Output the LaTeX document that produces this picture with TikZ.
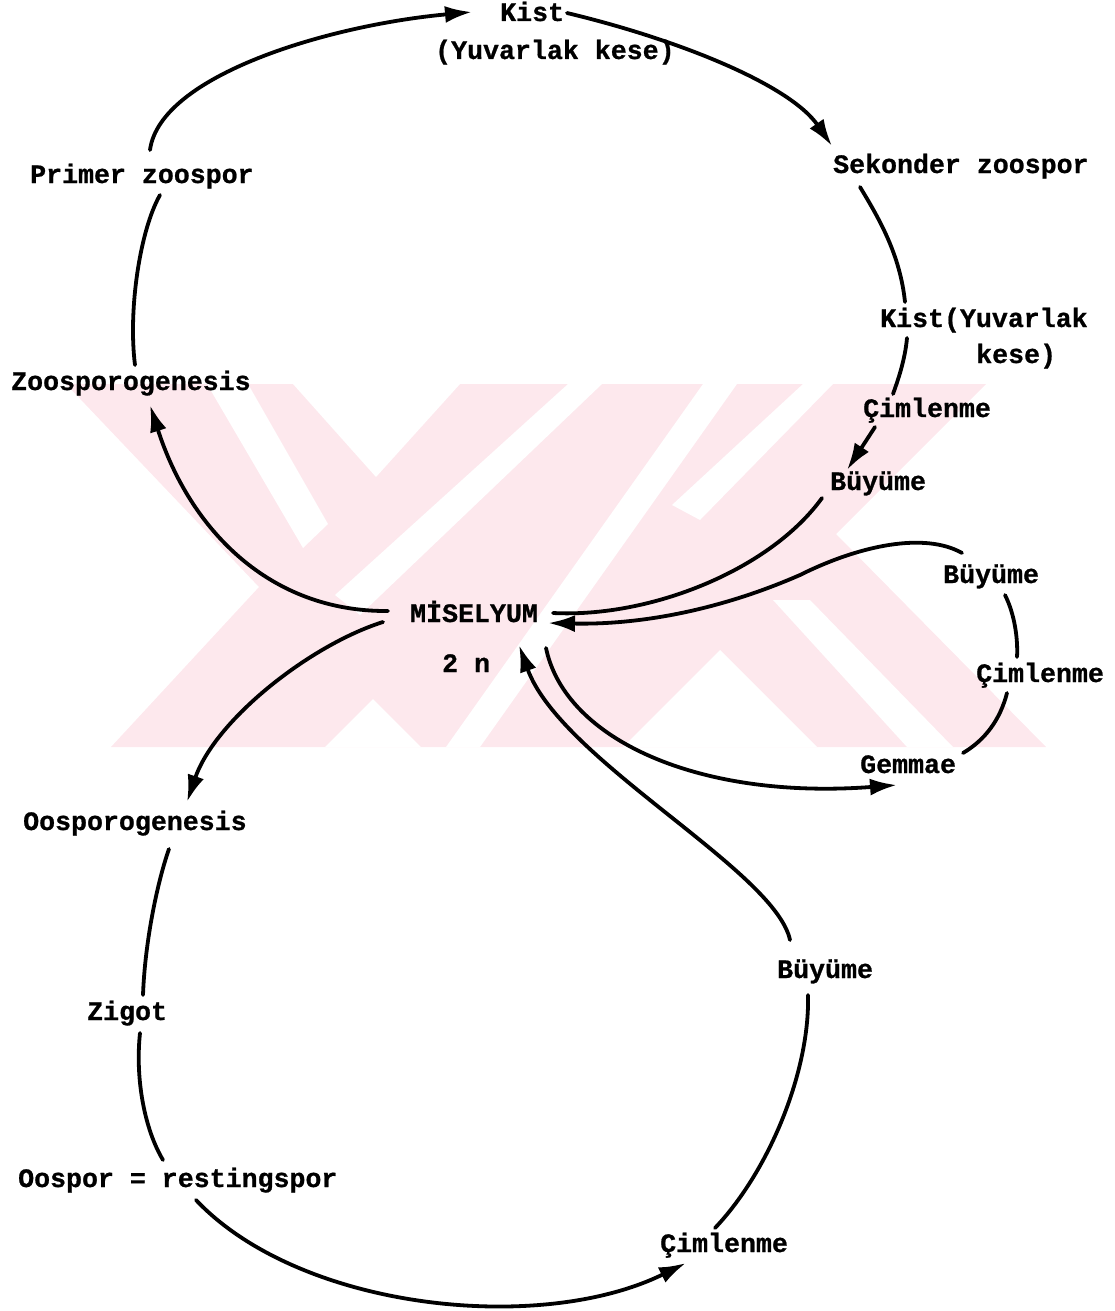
\documentclass[tikz,border=0pt]{standalone}
\usepackage{fontspec}
\newfontfamily\twfont{Liberation Mono}[BoldFeatures={FakeBold=0.8}]
\usetikzlibrary{arrows.meta}
\definecolor{wmpink}{RGB}{253,232,237}
\begin{document}
\begin{tikzpicture}[x=1pt,y=-1pt,
  lbl/.style={font=\twfont\bfseries\fontsize{26.6}{30}\selectfont, inner sep=0pt, anchor=base west},
  conn/.style={line width=3.8pt, line cap=round, black},
  arr/.style={conn, -{Latex[length=27pt,width=17pt]}}]
\useasboundingbox (0,0) rectangle (1114,1311);
% watermark
\fill[wmpink] (66,384) -- (986,384) -- (836,534) -- (1046,747) -- (111,747) -- (259,587) -- cycle;
\fill[white] (293,384) -- (460,384) -- (376,477) -- cycle;
\fill[white] (325,747) -- (373,699) -- (421,747) -- cycle;
\fill[white] (623,747) -- (720,650) -- (817,747) -- cycle;
\fill[white] (207,384) -- (248,384) -- (328,524) -- (303,548) -- cycle;
\fill[white] (568,384) -- (602,384) -- (360,615) -- (335,595) -- cycle;
\fill[white] (703,384) -- (737,384) -- (480,747) -- (446,747) -- cycle;
\fill[white] (803,384) -- (833,384) -- (700,520) -- (672,505) -- cycle;
\fill[white] (773,600) -- (810,600) -- (953,747) -- (907,747) -- cycle;
% labels
\node[lbl] (kist) at (500,21) {Kist};
\node[lbl] (yuv) at (435,59) {(Yuvarlak kese)};
\node[lbl] (sek) at (833,173) {Sekonder zoospor};
\node[lbl] (prim) at (30,183) {Primer zoospor};
\node[lbl] (kistb) at (880,327) {Kist(Yuvarlak};
\node[lbl] (kese) at (976,363) {kese)};
\node[lbl] (zoosp) at (11,390) {Zoosporogenesis};
\node[lbl] (cim1) at (863,417) {Çimlenme};
\node[lbl] (buy1) at (830,490) {Büyüme};
\node[lbl] (buy2) at (943,583) {Büyüme};
\node[lbl] (misel) at (410,622) {MİSELYUM};
\node[lbl] (twon) at (442,672) {2 n};
\node[lbl] (cim2) at (976,682) {Çimlenme};
\node[lbl] (gem) at (860,773) {Gemmae};
\node[lbl] (oosp) at (23,830) {Oosporogenesis};
\node[lbl] (zigot) at (87,1020) {Zigot};
\node[lbl] (oospor) at (18,1187) {Oospor = restingspor};
\node[lbl] (cim3) at (660,1252) {Çimlenme};
\node[lbl] (buy3) at (777,978) {Büyüme};
% connectors
\draw[arr] ([shift={(120,-33)}]prim.base west) .. controls (160,75) and (330,25) .. ([shift={(-28,-9)}]kist.base west);
\draw[arr] ([shift={(67,-8)}]kist.base west) .. controls (680,40) and (790,85) .. ([shift={(-1,-27)}]sek.base west);
\draw[conn] ([shift={(27,14)}]sek.base west) .. controls (880,220) and (900,255) .. ([shift={(25,-25)}]kistb.base west);
\draw[conn] ([shift={(27,11)}]kistb.base west) .. controls (905,360) and (898,380) .. ([shift={(30,-23)}]cim1.base west);
\draw[arr] ([shift={(12,10)}]cim1.base west) -- ([shift={(17,-20)}]buy1.base west);
\draw[conn] ([shift={(-8,8)}]buy1.base west) .. controls (770,570) and (650,618) .. ([shift={(143,-9)}]misel.base west);
\draw[arr] ([shift={(19,-30)}]buy2.base west) .. controls (925,532) and (860,545) .. (800,575) .. controls (720,610) and (640,625) .. ([shift={(138,1)}]misel.base west);
\draw[conn] ([shift={(62,12)}]buy2.base west) .. controls (1015,615) and (1018,640) .. ([shift={(41,-25)}]cim2.base west);
\draw[conn] ([shift={(31,11)}]cim2.base west) .. controls (1000,720) and (985,740) .. ([shift={(103,-20)}]gem.base west);
\draw[arr] ([shift={(136,26)}]misel.base west) .. controls (565,740) and (700,800) .. ([shift={(37,12)}]gem.base west);
\draw[arr] ([shift={(13,-38)}]buy3.base west) .. controls (775,870) and (560,760) .. ([shift={(109,23)}]misel.base west);
\draw[conn] ([shift={(55,-24)}]cim3.base west) .. controls (770,1170) and (810,1070) .. ([shift={(31,17)}]buy3.base west);
\draw[arr] ([shift={(178,13)}]oospor.base west) .. controls (300,1310) and (540,1335) .. ([shift={(26,11)}]cim3.base west);
\draw[conn] ([shift={(53,13)}]zigot.base west) .. controls (135,1080) and (145,1130) .. ([shift={(145,-27)}]oospor.base west);
\draw[conn] ([shift={(146,19)}]oosp.base west) .. controls (158,880) and (145,940) .. ([shift={(56,-25)}]zigot.base west);
\draw[arr] ([shift={(-27,0)}]misel.base west) .. controls (310,645) and (215,720) .. ([shift={(164,-28)}]oosp.base west);
\draw[arr] ([shift={(-22,-11)}]misel.base west) .. controls (270,612) and (190,530) .. ([shift={(139,15)}]zoosp.base west);
\draw[conn] ([shift={(124,-25)}]zoosp.base west) .. controls (128,310) and (140,230) .. ([shift={(130,12)}]prim.base west);
\end{tikzpicture}
\end{document}
